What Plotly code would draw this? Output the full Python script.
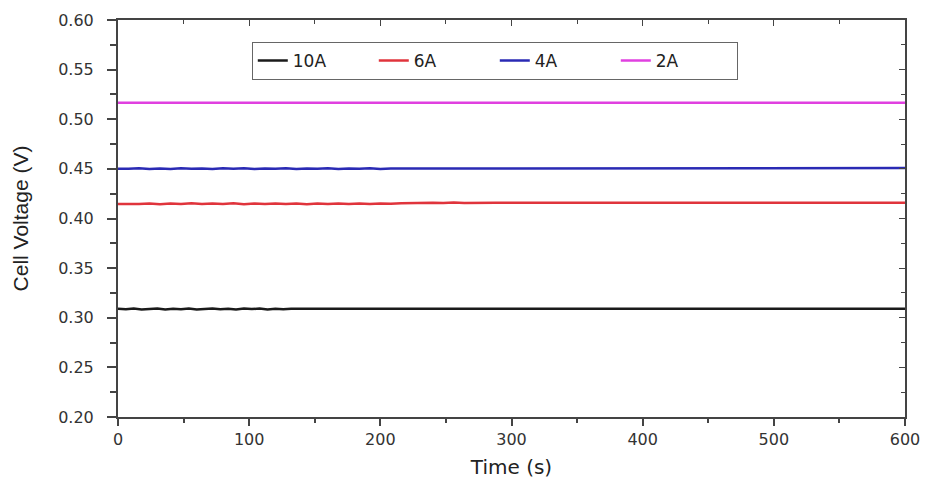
import plotly.graph_objects as go

# ---- data ----
t_10A = [0, 6, 12, 18, 24, 30, 36, 42, 48, 54, 60, 66, 72, 78, 84, 90, 96, 102,
         108, 114, 120, 126, 132, 600]
v_10A = [0.3090, 0.3085, 0.3092, 0.3083, 0.3088, 0.3094, 0.3084, 0.3091, 0.3086,
         0.3093, 0.3083, 0.3089, 0.3094, 0.3085, 0.3090, 0.3083, 0.3092, 0.3087,
         0.3093, 0.3084, 0.3090, 0.3086, 0.3090, 0.3090]

t_6A = [0, 8, 16, 24, 32, 40, 48, 56, 64, 72, 80, 88, 96, 104, 112, 120, 128, 136,
        144, 152, 160, 168, 176, 184, 192, 200, 208, 216, 224, 232, 240, 248, 256,
        264, 272, 280, 288, 296, 600]
v_6A = [0.4145, 0.4143, 0.4146, 0.4150, 0.4144, 0.4152, 0.4146, 0.4153, 0.4145,
        0.4151, 0.4147, 0.4153, 0.4144, 0.4150, 0.4146, 0.4152, 0.4145, 0.4151,
        0.4144, 0.4150, 0.4146, 0.4152, 0.4147, 0.4151, 0.4145, 0.4152, 0.4148,
        0.4154, 0.4158, 0.4155, 0.4159, 0.4156, 0.4160, 0.4156, 0.4159, 0.4157,
        0.4159, 0.4158, 0.4158]

t_4A = [0, 8, 16, 24, 32, 40, 48, 56, 64, 72, 80, 88, 96, 104, 112, 120, 128, 136,
        144, 152, 160, 168, 176, 184, 192, 200, 208, 216, 600]
v_4A = [0.4502, 0.4500, 0.4506, 0.4498, 0.4504, 0.4499, 0.4507, 0.4500, 0.4505,
        0.4498, 0.4506, 0.4501, 0.4507, 0.4499, 0.4505, 0.4500, 0.4506, 0.4498,
        0.4504, 0.4500, 0.4507, 0.4499, 0.4505, 0.4500, 0.4506, 0.4499, 0.4505,
        0.4503, 0.4508]

t_2A = [0, 600]
v_2A = [0.5165, 0.5165]

series = [
    ("10A", t_10A, v_10A, "#1a1a1a"),
    ("6A", t_6A, v_6A, "#e0343c"),
    ("4A", t_4A, v_4A, "#2a2ab4"),
    ("2A", t_2A, v_2A, "#e040e0"),
]

x_ticks = [0, 100, 200, 300, 400, 500, 600]
y_ticks = [0.20, 0.25, 0.30, 0.35, 0.40, 0.45, 0.50, 0.55, 0.60]

WIDE = "DejaVu Sans, Verdana, sans-serif"
ARIAL = "Liberation Sans, Arial, sans-serif"
AXC = "#444444"

fig = go.Figure()
for name, t, v, c in series:
    fig.add_trace(go.Scatter(x=t, y=v, mode="lines", name=name,
                             line=dict(color=c, width=2.5)))

# invisible trace to activate mirrored (top/right) axes
fig.add_trace(go.Scatter(x=[0], y=[0.2], xaxis="x2", yaxis="y2",
                         mode="markers", marker=dict(opacity=0),
                         showlegend=False, hoverinfo="skip"))

fig.update_layout(
    width=926, height=479,
    margin=dict(l=118, r=21, t=20, b=62),
    paper_bgcolor="white", plot_bgcolor="white",
    font=dict(family=WIDE, size=16, color="#333333"),
    showlegend=True,
    legend=dict(orientation="h", x=0.170, y=0.945, xanchor="left", yanchor="top",
                bordercolor="#666666", borderwidth=1, bgcolor="white",
                font=dict(family=WIDE, size=17, color="#222222"),
                entrywidth=76, entrywidthmode="pixels",
                tracegroupgap=0, itemwidth=30,
                traceorder="normal"),
    xaxis=dict(range=[0, 600], tickvals=x_ticks, ticktext=[str(v) for v in x_ticks],
               automargin=False,
               showgrid=False, zeroline=False, showline=True, linecolor=AXC,
               linewidth=2, ticks="outside", ticklen=7, tickwidth=1.5, tickcolor=AXC,
               minor=dict(dtick=50, ticks="outside", ticklen=4, tickcolor=AXC),
               title=dict(text="Time (s)", font=dict(family=WIDE, size=20, color="#222222"),
                          standoff=12),
               tickfont=dict(family=WIDE, size=16)),
    yaxis=dict(range=[0.20, 0.60], tickvals=y_ticks,
               ticktext=["%.2f" % v for v in y_ticks],
               automargin=False,
               showgrid=False, zeroline=False, showline=True, linecolor=AXC,
               linewidth=2, ticks="outside", ticklen=9, tickwidth=1.5, tickcolor=AXC,
               ticklabelstandoff=10,
               minor=dict(dtick=0.025, ticks="outside", ticklen=6, tickcolor=AXC),
               title=dict(text="Cell Voltage (V)",
                          font=dict(family=ARIAL, size=21, color="#222222"),
                          standoff=24),
               tickfont=dict(family=WIDE, size=16)),
    xaxis2=dict(range=[0, 600], overlaying="x", side="top", tickvals=x_ticks,
                automargin=False,
                showticklabels=False, showgrid=False, zeroline=False, showline=True,
                linecolor=AXC, linewidth=2, ticks="inside", ticklen=6, tickcolor=AXC,
                minor=dict(dtick=50, ticks="inside", ticklen=4, tickcolor=AXC)),
    yaxis2=dict(range=[0.20, 0.60], overlaying="y", side="right", tickvals=y_ticks,
                automargin=False,
                showticklabels=False, showgrid=False, zeroline=False, showline=True,
                linecolor=AXC, linewidth=2, ticks="inside", ticklen=6, tickcolor=AXC,
                minor=dict(dtick=0.025, ticks="inside", ticklen=4, tickcolor=AXC)),
)

# remove the browser's default page margin so the figure fills the window exactly
fig.write_html("out.html",
               config={"displayModeBar": False},
               post_script="document.body.style.margin='0';"
                           "document.body.style.overflow='hidden';")
